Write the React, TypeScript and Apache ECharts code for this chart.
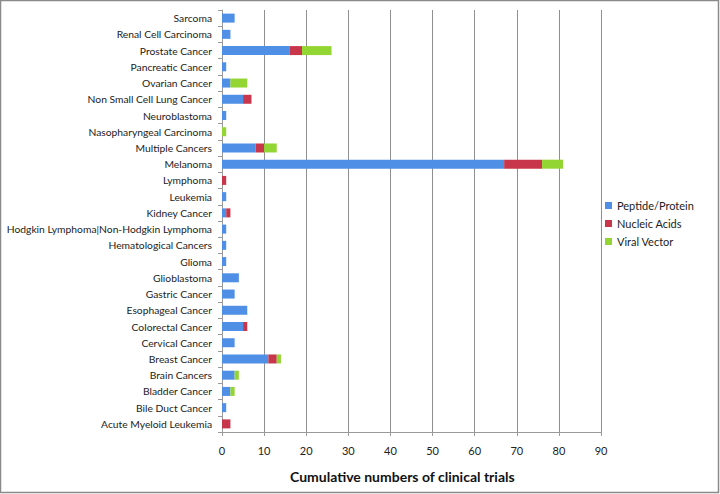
import React, { useEffect, useRef } from "react";
import * as echarts from "echarts";

const categories = [
  "Acute Myeloid Leukemia",
  "Bile Duct Cancer",
  "Bladder Cancer",
  "Brain Cancers",
  "Breast Cancer",
  "Cervical Cancer",
  "Colorectal Cancer",
  "Esophageal Cancer",
  "Gastric Cancer",
  "Glioblastoma",
  "Glioma",
  "Hematological Cancers",
  "Hodgkin Lymphoma|Non-Hodgkin Lymphoma",
  "Kidney Cancer",
  "Leukemia",
  "Lymphoma",
  "Melanoma",
  "Multiple Cancers",
  "Nasopharyngeal Carcinoma",
  "Neuroblastoma",
  "Non Small Cell Lung Cancer",
  "Ovarian Cancer",
  "Pancreatic Cancer",
  "Prostate Cancer",
  "Renal Cell Carcinoma",
  "Sarcoma",
];

const peptideProtein = [0, 1, 2, 3, 11, 3, 5, 6, 3, 4, 1, 1, 1, 1, 1, 0, 67, 8, 0, 1, 5, 2, 1, 16, 2, 3];
const nucleicAcids = [2, 0, 0, 0, 2, 0, 1, 0, 0, 0, 0, 0, 0, 1, 0, 1, 9, 2, 0, 0, 2, 0, 0, 3, 0, 0];
const viralVector = [0, 0, 1, 1, 1, 0, 0, 0, 0, 0, 0, 0, 0, 0, 0, 0, 5, 3, 1, 0, 0, 4, 0, 7, 0, 0];

const xTicks = { min: 0, max: 90, interval: 10 };
const axisTitle = "Cumulative numbers of clinical trials";

const FONT = "Lato, 'Open Sans', sans-serif";

export default function App() {
  const ref = useRef<HTMLDivElement>(null);
  useEffect(() => {
    if (!ref.current) return;
    const chart = echarts.init(ref.current, null, { renderer: "svg" });
    const barStyle = (color: string) => ({
      type: "bar" as const,
      stack: "total",
      barWidth: 9,
      itemStyle: { color },
    });
    chart.setOption({
      animation: false,
      backgroundColor: "#ffffff",
      textStyle: { fontFamily: FONT },
      grid: {
        left: 222,
        top: 10,
        width: 379,
        height: 422,
        containLabel: false,
        outerBoundsMode: "none",
      },
      legend: {
        orient: "vertical",
        left: 600,
        top: 195,
        itemWidth: 7,
        itemHeight: 7,
        itemGap: 7,
        icon: "rect",
        textStyle: { fontSize: 11, color: "#222", fontFamily: FONT },
        data: ["Peptide/Protein", "Nucleic Acids", "Viral Vector"],
      },
      xAxis: {
        type: "value",
        min: xTicks.min,
        max: xTicks.max,
        interval: xTicks.interval,
        axisLine: { show: true, lineStyle: { color: "#9a9a9a" } },
        axisTick: { show: true, length: 4, lineStyle: { color: "#9a9a9a" } },
        axisLabel: { fontSize: 11, color: "#222", margin: 13, fontFamily: FONT },
        splitLine: { show: true, lineStyle: { color: "#8f8f8f", width: 1 } },
      },
      yAxis: {
        type: "category",
        data: categories,
        axisLine: { show: true, lineStyle: { color: "#9a9a9a" } },
        axisTick: { show: true, length: 4, lineStyle: { color: "#9a9a9a" } },
        axisLabel: { fontSize: 10.3, color: "#222", margin: 10, fontFamily: FONT },
        splitLine: { show: false },
      },
      series: [
        { name: "Peptide/Protein", ...barStyle("#4f8fe6"), data: peptideProtein },
        { name: "Nucleic Acids", ...barStyle("#c8364b"), data: nucleicAcids },
        { name: "Viral Vector", ...barStyle("#93d532"), data: viralVector },
      ],
      graphic: [
        {
          type: "text",
          left: 290,
          top: 469,
          style: {
            text: axisTitle,
            fontSize: 14,
            fontWeight: "bold",
            fill: "#111",
            fontFamily: FONT,
          },
          silent: true,
        },
        {
          type: "rect",
          shape: { x: 0.5, y: 0.5, width: 718, height: 492 },
          style: { fill: "none", stroke: "#8a8a8a", lineWidth: 1.5 },
          silent: true,
        },
      ],
    });
    return () => chart.dispose();
  }, []);
  return (
    <div
      ref={ref}
      style={{ position: "fixed", left: 0, top: 0, width: 720, height: 494 }}
    />
  );
}
